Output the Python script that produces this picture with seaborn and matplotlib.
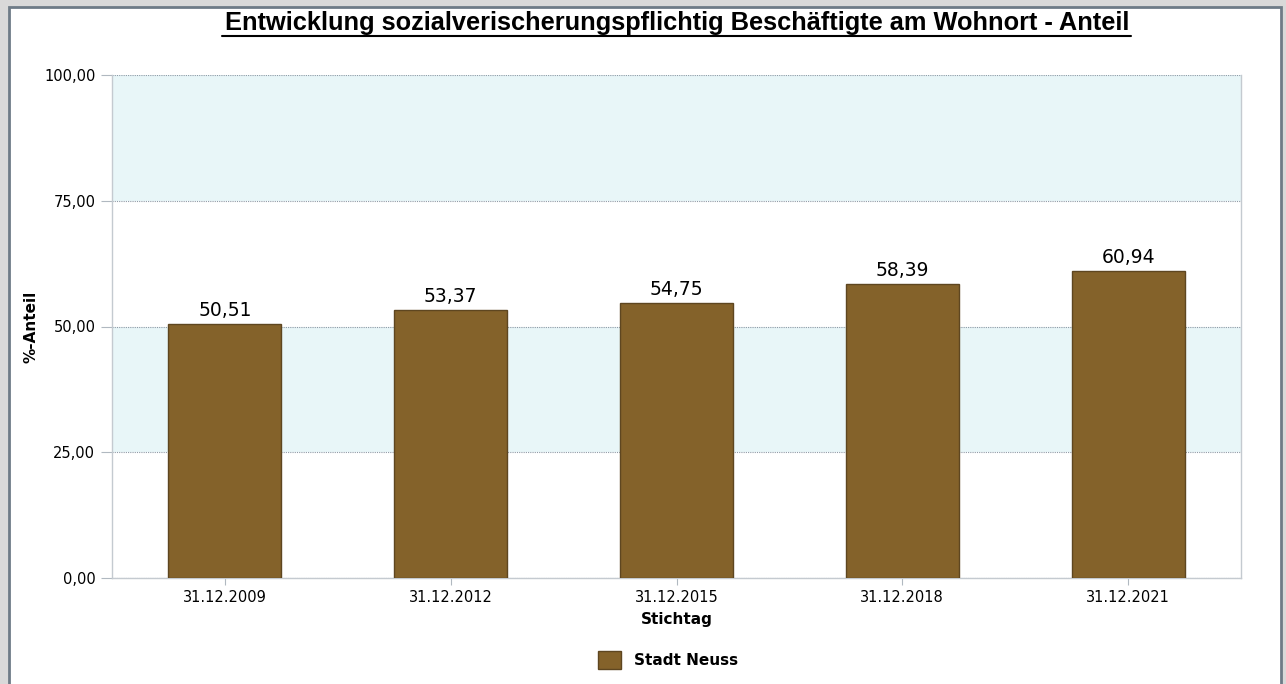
import matplotlib
matplotlib.use("Agg")
import matplotlib.pyplot as plt
import seaborn as sns
import pandas as pd
from matplotlib.patches import Rectangle, Patch
from matplotlib.ticker import FuncFormatter

# Daten
stichtage = ["31.12.2009", "31.12.2012", "31.12.2015", "31.12.2018", "31.12.2021"]
anteil = [50.51, 53.37, 54.75, 58.39, 60.94]
serie = "Stadt Neuss"

df = pd.DataFrame({"Stichtag": stichtage, "Anteil": anteil})

sns.set_style("white")
plt.rcParams["font.family"] = ["DejaVu Sans"]
plt.rcParams["text.color"] = "black"
plt.rcParams["axes.labelcolor"] = "black"
plt.rcParams["xtick.color"] = "black"
plt.rcParams["ytick.color"] = "black"

bar_color = "#84622a"
band_color = "#e8f6f8"

fig = plt.figure(figsize=(12.86, 6.84), dpi=100)
fig.patch.set_facecolor("#d9d9d9")
# weisses Panel mit Rahmen
fig.patches.append(Rectangle((9 / 1286, -0.01), 1272 / 1286, (684 - 7) / 684 + 0.01,
                             transform=fig.transFigure, facecolor="white",
                             edgecolor="#6e7b87", linewidth=2, zorder=-5))

ax = fig.add_axes([112 / 1286, 106 / 684, 1129 / 1286, 503 / 684])
ax.set_facecolor("white")

# Baender
ax.axhspan(25, 50, color=band_color, zorder=0, lw=0)
ax.axhspan(75, 100, color=band_color, zorder=0, lw=0)

sns.barplot(data=df, x="Stichtag", y="Anteil", color=bar_color, width=0.5,
            saturation=1, edgecolor="#5e4620", linewidth=1, ax=ax, zorder=3)

for i, v in enumerate(anteil):
    ax.text(i, v + 0.8, f"{v:.2f}".replace(".", ","), ha="center", va="bottom",
            fontsize=13.5, color="black", zorder=4)

ax.set_xlim(-0.5, 4.5)
ax.set_ylim(0, 100)
ax.set_yticks([0, 25, 50, 75, 100])
ax.yaxis.set_major_formatter(FuncFormatter(lambda v, p: f"{v:.2f}".replace(".", ",")))
ax.grid(axis="y", linestyle=(0, (1, 1)), color="#8f9aa6", linewidth=0.8, zorder=1)
ax.set_axisbelow(True)

for s in ["left", "right", "bottom"]:
    ax.spines[s].set_color("#c4cad0")
    ax.spines[s].set_linewidth(1)
ax.spines["top"].set_visible(False)

ax.tick_params(axis="y", length=8, color="#b0b8c0", labelsize=10.5, pad=4, left=True)
ax.tick_params(axis="x", length=5, color="#b0b8c0", labelsize=10.5, pad=4, bottom=True)

ax.set_xlabel("Stichtag", fontsize=11, fontweight="bold", labelpad=5)
ax.set_ylabel("%-Anteil", fontsize=11, fontweight="bold", labelpad=4)

fig.text(677 / 1286, 1 - 23 / 684,
         "Entwicklung sozialverischerungspflichtig Beschäftigte am Wohnort - Anteil",
         ha="center", va="center", fontsize=18.3, fontweight="bold",
         family="Liberation Sans")
# Unterstreichung
fig.add_artist(plt.Line2D([222 / 1286, 1131 / 1286], [1 - 35.5 / 684, 1 - 35.5 / 684],
                          transform=fig.transFigure, color="black", linewidth=1.5))

leg = fig.legend(handles=[Patch(facecolor=bar_color, edgecolor="#5e4620", label=serie)],
                 loc="center", bbox_to_anchor=(668 / 1286, 1 - 660 / 684),
                 frameon=False, handlelength=1.5, handleheight=1.5,
                 prop={"weight": "bold", "size": 11})

fig.savefig("out.png", dpi=100, facecolor=fig.get_facecolor())
